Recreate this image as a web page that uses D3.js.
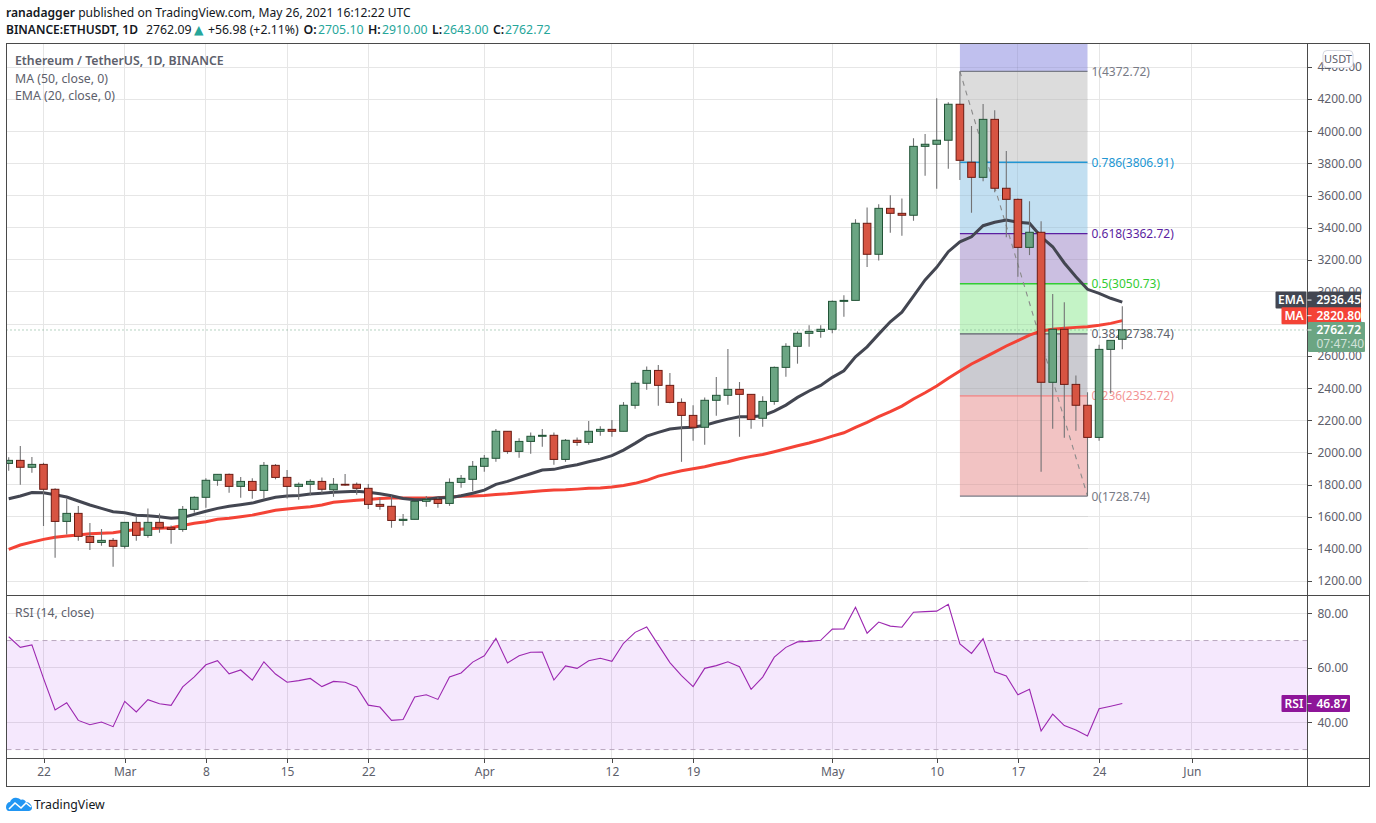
<!DOCTYPE html>
<html lang="en">
<head>
<meta charset="UTF-8">
<title>ETHUSDT 1D</title>
<script src="https://cdnjs.cloudflare.com/ajax/libs/d3/7.8.5/d3.min.js"></script>
<style>
  html, body { margin: 0; padding: 0; background: #fff; }
  svg { display: block; }
  text { font-family: "Noto Sans", "DejaVu Sans", sans-serif; }
  .grid line { stroke: #e6e6e6; stroke-width: 1; shape-rendering: crispEdges; }
  .frame { stroke: #4a4a4a; stroke-width: 1.3; fill: none; shape-rendering: crispEdges; }
  .axis text { font-size: 12px; fill: #5d606b; }
  .axis line { stroke: #4a4a4a; shape-rendering: crispEdges; }
  .axis path { display: none; }
  .fiblabel { font-size: 12px; }
  .legend { font-size: 12.3px; fill: #5d606b; }
  .tag { font-size: 12px; font-weight: 600; fill: #fff; }
</style>
</head>
<body>
<div id="chart"></div>
<script>
// daily candles, Feb 19 to May 26 2021
const firstDay = new Date(Date.UTC(2021, 1, 19));
const opens = [1932,1951,1908,1926,1771,1571,1621,1478,1440,1453,1416,1565,1484,1565,1531,1521,1646,1721,1827,1864,1789,1820,1764,1920,1845,1789,1802,1820,1768,1802,1802,1777,1677,1665,1577,1584,1696,1708,1683,1814,1833,1914,1964,2132,2007,2069,2101,2107,1957,2076,2063,2132,2144,2132,2294,2431,2511,2418,2312,2231,2157,2325,2356,2393,2362,2213,2318,2530,2661,2742,2754,2767,2941,2947,3427,3234,3520,3489,3477,3906,3919,3944,4168,3807,3713,4074,3645,3576,3277,3371,2437,2767,2424,2294,2094,2642,2705];
const highs = [1970,2040,1972,1936,1777,1714,1667,1561,1523,1467,1565,1600,1652,1621,1546,1667,1727,1839,1864,1870,1847,1839,1941,1928,1891,1814,1833,1845,1841,1866,1814,1804,1718,1731,1617,1696,1729,1721,1839,1860,1947,1984,2146,2132,2088,2125,2146,2125,2084,2094,2196,2163,2202,2314,2443,2536,2545,2495,2337,2294,2343,2470,2644,2439,2362,2350,2536,2680,2754,2792,2792,2947,2979,3452,3526,3545,3601,3582,3956,3983,4205,4180,4372,4033,4170,4130,3877,3582,3564,3439,2987,2935,2480,2375,2671,2698,2910];
const lows = [1886,1799,1874,1542,1345,1490,1450,1393,1419,1289,1401,1450,1469,1500,1432,1507,1625,1656,1793,1749,1718,1712,1714,1833,1714,1706,1733,1746,1724,1793,1737,1648,1644,1531,1544,1584,1662,1656,1668,1781,1758,1880,1942,1992,1967,1992,2036,1924,1942,2042,2048,2104,2098,2132,2272,2391,2291,2306,1942,2073,2048,2229,2297,2098,2148,2160,2297,2472,2553,2658,2715,2742,2845,2947,3155,3196,3368,3350,3443,3723,3642,3767,3696,3493,3688,3620,3340,3094,3229,1880,2148,2092,2135,1729,2073,2368,2643];
const closes = [1951,1908,1926,1771,1571,1621,1478,1440,1453,1416,1565,1484,1565,1531,1521,1646,1721,1827,1864,1789,1820,1764,1920,1845,1789,1802,1820,1771,1802,1797,1777,1677,1665,1577,1584,1696,1708,1683,1814,1839,1914,1964,2132,2007,2069,2101,2107,1957,2076,2063,2132,2144,2132,2294,2431,2511,2418,2312,2231,2157,2325,2356,2393,2362,2206,2318,2530,2661,2742,2754,2767,2941,2947,3427,3234,3520,3489,3477,3906,3919,3944,4168,3819,3713,4074,3645,3576,3277,3371,2437,2767,2424,2294,2094,2642,2698,2762.72];
const ema20 = [1712,1729,1751,1749,1737,1723,1698,1673,1652,1631,1625,1610,1606,1600,1590,1596,1615,1634,1652,1665,1675,1685,1704,1721,1729,1733,1741,1746,1752,1756,1758,1752,1743,1731,1714,1706,1708,1718,1718,1731,1746,1766,1802,1820,1845,1868,1891,1895,1911,1924,1942,1959,1980,2015,2057,2102,2125,2146,2154,2157,2169,2190,2208,2223,2223,2229,2258,2295,2343,2383,2418,2468,2509,2596,2658,2737,2814,2874,2974,3074,3153,3250,3312,3343,3412,3433,3447,3433,3427,3343,3281,3180,3094,3016,2991,2960,2936.45];
const ma50 = [1397,1424,1442,1459,1472,1480,1486,1494,1498,1500,1511,1521,1525,1528,1531,1546,1559,1569,1584,1590,1600,1610,1625,1640,1648,1656,1662,1673,1690,1696,1702,1708,1714,1716,1716,1716,1716,1718,1723,1727,1729,1733,1739,1743,1749,1756,1762,1766,1768,1772,1777,1779,1785,1795,1808,1827,1853,1870,1886,1899,1911,1928,1942,1961,1976,1988,2005,2023,2042,2059,2079,2102,2123,2157,2188,2223,2254,2289,2333,2372,2414,2462,2507,2551,2588,2625,2663,2697,2731,2756,2767,2773,2779,2783,2792,2804,2820.8];
const rsi14 = [71.4,67.5,68.4,56.1,44.5,47.2,40.7,39.1,40.1,38.4,47.7,43.8,48.3,46.8,46.2,53,56.7,61.1,62.6,57.8,59.2,55.5,62.2,57.7,54.7,55.3,56.1,53.1,55,54.7,53,46.3,45.6,40.7,41,49.3,50.1,48.4,56.6,58.1,62.1,64.4,70.8,61.8,64.4,65.7,65.8,55.5,60.7,59.8,62.6,63.5,62.4,69,73,75,68.4,61.9,57.1,53.1,59.8,60.8,62.2,60.4,52.1,56.6,63.9,67.5,69.5,69.7,70.1,74.2,74.3,82.2,72.7,76.8,75.3,74.9,80.4,80.6,80.8,83.3,68.8,65.3,70.7,58.5,57,50.1,52.1,36.8,43,38.8,37.2,35,45,45.9,46.87];

const priceTicks = [4400,4200,4000,3800,3600,3400,3200,3000,2800,2600,2400,2200,2000,1800,1600,1400,1200];
const rsiTicks = [80,60,40];
const dateTicks = [[2021,1,22],[2021,2,1],[2021,2,8],[2021,2,15],[2021,2,22],[2021,3,1],[2021,3,12],[2021,3,19],[2021,4,1],[2021,4,10],[2021,4,17],[2021,4,24],[2021,5,1]];
const dateLabels = ["22","Mar","8","15","22","Apr","12","19","May","10","17","24","Jun"];

const fibRatios = ["1","0.786","0.618","0.5","0.382","0.236","0"];
const fibPrices = [4372.72,3806.91,3362.72,3050.73,2738.74,2352.72,1728.74];
const fibFills = ["#dcdcdc","#c2dff1","#cbbfe1","#c4f3c6","#cbcbd1","#f2c3c3"];
const fibColors = ["#787b86","#2196d3","#5b1fa0","#33cc33","#5d606b","#f08080","#787b86"];

const width = 1376, height = 823;
const frameL = 6.5, axisX = 1307.5, frameR = 1369.5;
const frameT = 43.5, paneSplit = 595.5, axisTop = 758.5, frameB = 786.5;

const dayMs = 86400000;
const dates = closes.map((c, i) => new Date(firstDay.getTime() + i * dayMs));

const x = d3.scaleUtc()
    .domain([firstDay, new Date(Date.UTC(2021, 5, 1))])
    .range([8.7, 1191.9]);
const y = d3.scaleLinear().domain([4400, 1200]).range([67, 581]);
const yRsi = d3.scaleLinear().domain([80, 40]).range([613.3, 722.3]);

const svg = d3.select("#chart").append("svg")
    .attr("width", width)
    .attr("height", height);

svg.append("defs").append("clipPath").attr("id", "pane")
    .append("rect").attr("x", frameL).attr("y", frameT).attr("width", axisX - frameL).attr("height", paneSplit - frameT);

// header
svg.append("text").attr("x", 6).attr("y", 17).style("font-size", "12.1px").attr("fill", "#131722")
    .html('<tspan font-weight="600">ranadagger</tspan> published on TradingView.com, May 26, 2021 16:12:22 UTC');
const head = svg.append("text").attr("y", 34).style("font-size", "12.3px").attr("fill", "#131722");
head.append("tspan").attr("x", 6).attr("font-weight", 600).style("font-size", "12px").text("BINANCE:ETHUSDT, 1D");
head.append("tspan").attr("x", 146).text("2762.09");
head.append("tspan").attr("x", 194).attr("fill", "#26a69a").text("▲");
head.append("tspan").attr("x", 208).text("+56.98 (+2.11%)");
[["O:","2705.10",303.5,318],["H:","2910.00",368,382],["L:","2643.00",432,443],["C:","2762.72",493,505]].forEach((p) => {
    head.append("tspan").attr("x", p[2]).attr("font-weight", 600).text(p[0]);
    head.append("tspan").attr("x", p[3]).attr("fill", "#26a69a").text(p[1]);
});

// grid
const grid = svg.append("g").attr("class", "grid");
const tickDates = dateTicks.map(d => new Date(Date.UTC(d[0], d[1], d[2])));
grid.selectAll(".v").data(tickDates).enter().append("line")
    .attr("x1", d => x(d)).attr("x2", d => x(d))
    .attr("y1", frameT).attr("y2", axisTop);
grid.selectAll(".h").data(priceTicks).enter().append("line")
    .attr("x1", frameL).attr("x2", axisX)
    .attr("y1", d => y(d)).attr("y2", d => y(d));
grid.selectAll(".r").data(rsiTicks).enter().append("line")
    .attr("x1", frameL).attr("x2", axisX)
    .attr("y1", d => yRsi(d)).attr("y2", d => yRsi(d));

// rsi pane
svg.append("rect")
    .attr("x", frameL).attr("width", axisX - frameL)
    .attr("y", yRsi(70)).attr("height", yRsi(30) - yRsi(70))
    .attr("fill", "#a020f0").attr("fill-opacity", 0.1);
svg.selectAll(".rsiband").data([70, 30]).enter().append("line")
    .attr("x1", frameL).attr("x2", axisX)
    .attr("y1", d => yRsi(d)).attr("y2", d => yRsi(d))
    .attr("stroke", "#b9a6bf").attr("stroke-dasharray", "5 4");
svg.append("path")
    .datum(rsi14)
    .attr("fill", "none").attr("stroke", "#9c27b0").attr("stroke-width", 1.1)
    .attr("d", d3.line().x((d, i) => x(dates[i])).y(d => yRsi(d)));

// fib retracement, from the May 12 high to the May 23 low
const fibStart = new Date(Date.UTC(2021, 4, 12));
const fibEnd = new Date(Date.UTC(2021, 4, 23));
const fibL = x(fibStart), fibR = x(fibEnd);
const fib = svg.append("g");
fib.append("rect").attr("x", fibL).attr("width", fibR - fibL)
    .attr("y", frameT).attr("height", y(fibPrices[0]) - frameT)
    .attr("fill", "#c0c0ee");
fib.selectAll(".band").data(fibFills).enter().append("rect")
    .attr("x", fibL).attr("width", fibR - fibL)
    .attr("y", (d, i) => y(fibPrices[i]))
    .attr("height", (d, i) => y(fibPrices[i + 1]) - y(fibPrices[i]))
    .attr("fill", d => d);
// grid still shows through the bands
fib.selectAll(".gh").data(priceTicks).enter().append("line")
    .attr("x1", fibL).attr("x2", fibR)
    .attr("y1", d => y(d)).attr("y2", d => y(d))
    .attr("stroke", "#000").attr("stroke-opacity", 0.06).style("shape-rendering", "crispEdges");
fib.selectAll(".gv").data(tickDates.filter(d => x(d) > fibL && x(d) < fibR)).enter().append("line")
    .attr("x1", d => x(d)).attr("x2", d => x(d))
    .attr("y1", frameT).attr("y2", y(fibPrices[6]))
    .attr("stroke", "#000").attr("stroke-opacity", 0.06).style("shape-rendering", "crispEdges");
fib.selectAll(".lvl").data(fibPrices).enter().append("line")
    .attr("x1", fibL).attr("x2", fibR)
    .attr("y1", d => y(d)).attr("y2", d => y(d))
    .attr("stroke", (d, i) => fibColors[i]).attr("stroke-width", 1.3);
fib.selectAll(".lbl").data(fibPrices).enter().append("text")
    .attr("class", "fiblabel")
    .attr("x", fibR + 4)
    .attr("y", d => y(d) + 4.5)
    .attr("fill", (d, i) => fibColors[i])
    .attr("fill-opacity", (d, i) => i === 5 ? 0.85 : 1)
    .text((d, i) => `${fibRatios[i]}(${d.toFixed(2)})`);
fib.append("line")
    .attr("x1", fibL).attr("y1", y(fibPrices[0]))
    .attr("x2", fibR).attr("y2", y(fibPrices[6]))
    .attr("stroke", "#8a8a8a").attr("stroke-width", 1.1).attr("stroke-dasharray", "5 5");

// last price dotted line
svg.append("line")
    .attr("x1", frameL).attr("x2", axisX)
    .attr("y1", y(closes[closes.length - 1])).attr("y2", y(closes[closes.length - 1]))
    .attr("stroke", "#6ba583").attr("stroke-dasharray", "1 3");

const priceLayer = svg.append("g").attr("clip-path", "url(#pane)");

// moving averages
const avgLine = d3.line().x((d, i) => x(dates[i])).y(d => y(d));
priceLayer.append("path").datum(ma50).attr("fill", "none").attr("stroke", "#f44336").attr("stroke-width", 3).attr("d", avgLine);
priceLayer.append("path").datum(ema20).attr("fill", "none").attr("stroke", "#434651").attr("stroke-width", 3).attr("d", avgLine);

// candles
const candles = priceLayer.append("g").selectAll("g").data(closes).enter().append("g");
candles.append("line")
    .attr("x1", (d, i) => x(dates[i])).attr("x2", (d, i) => x(dates[i]))
    .attr("y1", (d, i) => y(highs[i])).attr("y2", (d, i) => y(lows[i]))
    .attr("stroke", "#737375").attr("stroke-width", 1.1);
candles.append("rect")
    .attr("x", (d, i) => x(dates[i]) - 3.8)
    .attr("width", 7.6)
    .attr("y", (d, i) => y(Math.max(opens[i], closes[i])))
    .attr("height", (d, i) => Math.max(Math.abs(y(opens[i]) - y(closes[i])), 0.6))
    .attr("fill", (d, i) => closes[i] >= opens[i] ? "#6ba583" : "#d75442")
    .attr("stroke", (d, i) => closes[i] >= opens[i] ? "#225437" : "#6b1a12")
    .attr("stroke-width", 1);

// frames
svg.append("rect").attr("class", "frame").attr("x", frameL).attr("y", frameT).attr("width", frameR - frameL).attr("height", frameB - frameT);
[paneSplit, axisTop].forEach(v => {
    svg.append("line").attr("class", "frame").attr("x1", frameL).attr("x2", frameR).attr("y1", v).attr("y2", v);
});
svg.append("line").attr("class", "frame").attr("x1", axisX).attr("x2", axisX).attr("y1", frameT).attr("y2", frameB);

// axes
svg.append("g").attr("class", "axis").attr("transform", `translate(${axisX},0)`)
    .call(d3.axisRight(y).tickValues(priceTicks).tickSize(4).tickPadding(6).tickFormat(d => d.toFixed(2)));
svg.append("g").attr("class", "axis").attr("transform", `translate(${axisX},0)`)
    .call(d3.axisRight(yRsi).tickValues(rsiTicks).tickSize(4).tickPadding(6).tickFormat(d => d.toFixed(2)));
svg.append("g").attr("class", "axis").attr("transform", `translate(0,${axisTop})`)
    .call(d3.axisBottom(x).tickValues(tickDates).tickSize(4).tickPadding(5).tickFormat((d, i) => dateLabels[i]));

// legends
svg.append("text").attr("class", "legend").attr("x", 15).attr("y", 65).attr("font-weight", 600).text("Ethereum / TetherUS, 1D, BINANCE");
svg.append("text").attr("class", "legend").attr("x", 15).attr("y", 82.5).text("MA (50, close, 0)");
svg.append("text").attr("class", "legend").attr("x", 15).attr("y", 100).text("EMA (20, close, 0)");
svg.append("text").attr("class", "legend").attr("x", 15).attr("y", 616.5).text("RSI (14, close)");

// price tags on the axis
function tag(yPos, name, nameW, value, color, w) {
    const h = 17;
    svg.append("rect").attr("x", axisX - 1 - nameW).attr("y", yPos - h / 2).attr("width", nameW).attr("height", h).attr("rx", 1).attr("fill", color);
    svg.append("text").attr("class", "tag").attr("x", axisX - 1 - nameW / 2).attr("y", yPos + 4).attr("text-anchor", "middle").text(name);
    svg.append("rect").attr("x", axisX + 0.5).attr("y", yPos - h / 2).attr("width", w).attr("height", h).attr("rx", 1).attr("fill", color);
    svg.append("line").attr("x1", axisX).attr("x2", axisX + 4).attr("y1", yPos).attr("y2", yPos).attr("stroke", "#fff");
    svg.append("text").attr("class", "tag").attr("x", axisX + 9).attr("y", yPos + 4).text(value);
}
tag(y(ema20[ema20.length - 1]) - 2, "EMA", 31, "2936.45", "#434651", 53);
tag(y(ma50[ma50.length - 1]) - 5, "MA", 25, "2820.80", "#f44336", 53);
const lastY = y(closes[closes.length - 1]);
svg.append("rect").attr("x", axisX + 0.5).attr("y", lastY - 8).attr("width", 57).attr("height", 30).attr("rx", 1).attr("fill", "#6ba583");
svg.append("line").attr("x1", axisX).attr("x2", axisX + 4).attr("y1", lastY).attr("y2", lastY).attr("stroke", "#fff");
svg.append("text").attr("class", "tag").attr("x", axisX + 9).attr("y", lastY + 4).text("2762.72");
svg.append("text").attr("class", "tag").attr("x", axisX + 9).attr("y", lastY + 18).attr("fill-opacity", 0.7).style("font-weight", 400).text("07:47:40");
tag(yRsi(rsi14[rsi14.length - 1]), "RSI", 25, "46.87", "#8e1599", 42);

// currency button
svg.append("rect").attr("x", 1323).attr("y", 50.5).attr("width", 30).attr("height", 17).attr("rx", 4)
    .attr("fill", "#fff").attr("stroke", "#d6d8e0");
svg.append("text").attr("x", 1338).attr("y", 63).attr("text-anchor", "middle").style("font-size", "11px").attr("fill", "#5d606b").text("USDT");

// tradingview logo
const logo = svg.append("g").attr("transform", "translate(6,796)");
logo.append("path").attr("fill", "#2196f3")
    .attr("d", "M0 11 C0 8 2 6 4 6 C5 3 8 1 11 2 C13 2 14 3 15 4 C17 3 19 4 20 6 C23 6 26 9 26 12 C26 14 24 15 23 15 L3 15 C1 15 0 13 0 11 Z");
logo.append("path").attr("fill", "none").attr("stroke", "#fff").attr("stroke-width", 1.6)
    .attr("d", "M3 13 L9 7 L15 12 L20 7 L25 11");
svg.append("text").attr("x", 34).attr("y", 808.5).style("font-size", "12.3px").attr("fill", "#131722").text("TradingView");
</script>
</body>
</html>
